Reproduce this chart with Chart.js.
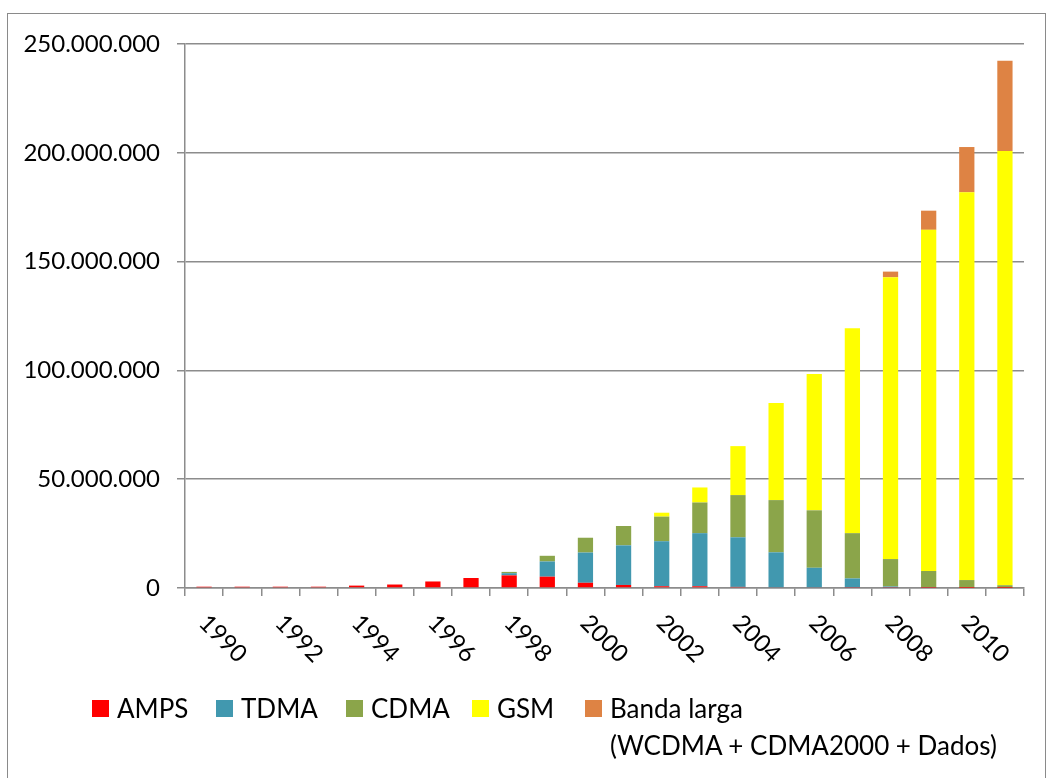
<!DOCTYPE html>
<html>
<head>
<meta charset="utf-8">
<script src="https://cdn.jsdelivr.net/npm/chart.js@4"></script>
<style>
  html, body { margin: 0; padding: 0; background: #fff; }
  body { width: 1052px; height: 778px; position: relative; overflow: hidden; font-family: Lato, sans-serif; }
  #frame { position: absolute; left: 7px; top: 13px; width: 1037px; height: 800px; border: 1.5px solid #8a8a8a; }
  #wrap { position: absolute; left: 0; top: 0; width: 1052px; height: 778px; }
  .item { position: absolute; top: 690px; display: flex; align-items: flex-start; font-size: 26px; color: #000; }
  .box { width: 17px; height: 17px; margin: 10px 8px 0 0; flex: none; }
  .txt { line-height: 37px; white-space: nowrap; }
</style>
</head>
<body>
<div id="frame"></div>
<div id="wrap"><canvas id="chart"></canvas></div>
<script>
// Anos (categorias) e assinantes em milhões
const years = ['1990','1991','1992','1993','1994','1995','1996','1997','1998','1999','2000',
               '2001','2002','2003','2004','2005','2006','2007','2008','2009','2010','2011'];
const amps  = [0.6, 0.6, 0.6, 0.6, 1.1, 1.6, 3.0, 4.6, 5.8, 5.2, 2.4, 1.4, 0.8, 0.8, 0.5, 0.3, 0.3, 0.2, 0.2, 0.1, 0.05, 0.03];
const tdma  = [0, 0, 0, 0, 0, 0, 0, 0, 1.0, 7.0, 13.9, 18.2, 20.7, 24.4, 22.8, 16.1, 9.0, 4.2, 0.5, 0.2, 0.1, 0.05];
const cdma  = [0, 0, 0, 0, 0, 0, 0, 0, 0.6, 2.6, 6.8, 8.9, 11.3, 14.1, 19.4, 24.0, 26.4, 20.8, 12.6, 7.5, 3.5, 1.2];
const gsm   = [0, 0, 0, 0, 0, 0, 0, 0, 0, 0, 0, 0, 1.8, 6.9, 22.5, 44.6, 62.7, 94.2, 129.5, 156.8, 178.2, 199.5];
const banda = [0, 0, 0, 0, 0, 0, 0, 0, 0, 0, 0, 0, 0, 0, 0, 0, 0, 0, 2.6, 8.8, 20.8, 41.5];

const seriesNames  = ['AMPS', 'TDMA', 'CDMA', 'GSM', ['Banda larga', '(WCDMA + CDMA2000 + Dados)']];
const seriesColors = ['#FF0000', '#4198AF', '#8BA54A', '#FFFF00', '#DE8344'];
const seriesData   = [amps, tdma, cdma, gsm, banda];

// posição horizontal de cada item da legenda (px)
const legendLeft = [92, 216, 346, 472, 585];

const GRID = '#8c8c8c';

// 250000000 -> "250.000.000"
function formatNum(v) {
  return String(Math.round(v * 1e6)).replace(/\B(?=(\d{3})+(?!\d))/g, '.');
}

// Rótulos do eixo X inclinados para baixo (a cada 2 anos)
const yearLabels = {
  id: 'yearLabels',
  afterDraw(chart) {
    const ctx = chart.ctx;
    const xs = chart.scales.x;
    const y0 = chart.chartArea.bottom;
    ctx.save();
    ctx.font = '24px Lato';
    ctx.fillStyle = '#000';
    ctx.textAlign = 'left';
    ctx.textBaseline = 'middle';
    years.forEach((yr, i) => {
      if (i % 2) return;
      ctx.save();
      ctx.translate(xs.getPixelForValue(i) - 1, y0 + 31);
      ctx.rotate(Math.PI / 4);
      ctx.fillText(yr, 0, 0);
      ctx.restore();
    });
    ctx.restore();
  }
};

const ctx = document.getElementById('chart').getContext('2d');
const chart = new Chart(ctx, {
  type: 'bar',
  data: {
    labels: years,
    datasets: seriesData.map((d, i) => ({
      label: Array.isArray(seriesNames[i]) ? seriesNames[i].join(' ') : seriesNames[i],
      data: d,
      backgroundColor: seriesColors[i],
      borderWidth: 0,
      barPercentage: 0.4,
      categoryPercentage: 1
    }))
  },
  options: {
    responsive: true,
    maintainAspectRatio: false,
    animation: false,
    layout: { padding: { left: 0, top: 44, right: 28, bottom: 0 } },
    plugins: {
      legend: { display: false },
      tooltip: { enabled: false }
    },
    scales: {
      x: {
        stacked: true,
        grid: { display: true, drawOnChartArea: false, drawTicks: true, tickLength: 8, color: GRID, lineWidth: 1.5 },
        border: { display: true, color: GRID, width: 1.5 },
        ticks: { display: false },
        afterFit: s => { s.height = 190; }
      },
      y: {
        stacked: true,
        min: 0,
        max: 250,
        ticks: {
          stepSize: 50,
          padding: 17,
          color: '#000',
          font: { family: 'Lato', size: 24 },
          callback: v => formatNum(v)
        },
        grid: { color: GRID, lineWidth: 1.5, tickLength: 8, drawTicks: true },
        border: { display: true, color: GRID, width: 1.5 },
        afterFit: s => { s.width = 185; }
      }
    }
  },
  plugins: [yearLabels]
});

// Legenda em HTML (rótulo de duas linhas)
seriesNames.forEach((name, i) => {
  const item = document.createElement('div');
  item.className = 'item';
  item.style.left = legendLeft[i] + 'px';
  const box = document.createElement('span');
  box.className = 'box';
  box.style.background = seriesColors[i];
  const txt = document.createElement('span');
  txt.className = 'txt';
  txt.innerHTML = Array.isArray(name) ? name.join('<br>') : name;
  item.appendChild(box);
  item.appendChild(txt);
  document.body.appendChild(item);
});
</script>
</body>
</html>
